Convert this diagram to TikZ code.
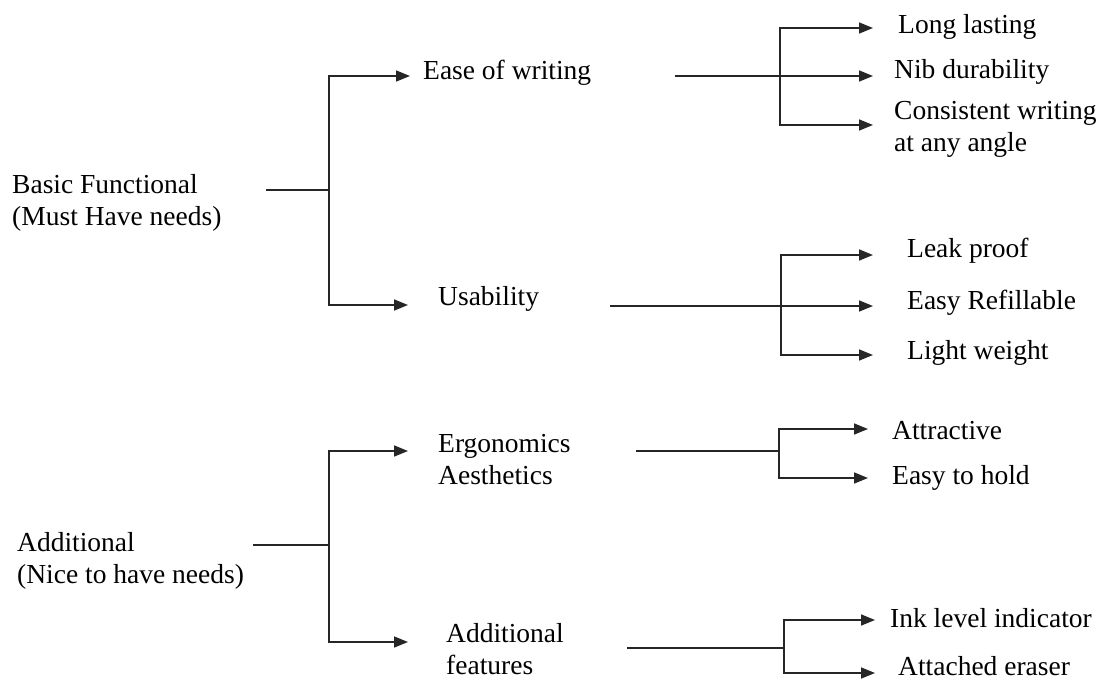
\documentclass[tikz,border=0pt]{standalone}
\usepackage{fontspec}
\setmainfont{Liberation Serif}
\usetikzlibrary{arrows.meta}
\begin{document}
\begin{tikzpicture}[x=1pt,y=-1pt,
  lbl/.style={anchor=base west,inner sep=0pt,align=left,font=\fontsize{27.5}{32}\selectfont},
  conn/.style={line width=1.6pt,line join=miter,black!85},
  arr/.style={conn,-{Triangle[length=14pt,width=11pt]}}]
\useasboundingbox (0,0) rectangle (1109,680);
% root nodes (base = last line's baseline)
\node[lbl] (bf) at (12,225) {Basic Functional\\(Must Have needs)};
\node[lbl] (ad) at (17,583) {Additional\\(Nice to have needs)};
% second level
\node[lbl] (ew) at (423,79) {Ease of writing};
\node[lbl] (us) at (438,305) {Usability};
\node[lbl] (er) at (438,484) {Ergonomics\\Aesthetics};
\node[lbl] (af) at (446,674) {Additional\\features};
% leaves
\node[lbl] (ll) at (898,34) {Long lasting};
\node[lbl] (nd) at (894,78) {Nib durability};
\node[lbl] (cw) at (894,151) {Consistent writing\\at any angle};
\node[lbl] (lp) at (907,257) {Leak proof};
\node[lbl] (rf) at (907,309) {Easy Refillable};
\node[lbl] (lw) at (907,359) {Light weight};
\node[lbl] (at) at (892,439) {Attractive};
\node[lbl] (eh) at (892,484) {Easy to hold};
\node[lbl] (il) at (890,627) {Ink level indicator};
\node[lbl] (ae) at (898,675) {Attached eraser};
% coordinates
\coordinate (bfs) at (266,190); \coordinate (bfj) at (329,190);
\coordinate (ewt) at (410,76); \coordinate (ust) at (408,305);
\coordinate (ads) at (253,545); \coordinate (adj) at (329,545);
\coordinate (ert) at (408,451); \coordinate (aft) at (408,642);
\coordinate (ews) at (675,76); \coordinate (ewj) at (780,76);
\coordinate (llt) at (873,28); \coordinate (ndt) at (873,76); \coordinate (cwt) at (873,125);
\coordinate (uss) at (610,306); \coordinate (usj) at (781,306);
\coordinate (lpt) at (873,255); \coordinate (rft) at (873,306); \coordinate (lwt) at (873,355);
\coordinate (ers) at (636,451); \coordinate (erj) at (779,451);
\coordinate (att) at (868,429); \coordinate (eht) at (868,478);
\coordinate (afs) at (627,648); \coordinate (afj) at (784,648);
\coordinate (ilt) at (875,620); \coordinate (aet) at (875,673);
% connectors
\draw[conn] (bfs) -- (bfj);
\draw[arr] (bfj) |- (ewt);
\draw[arr] (bfj) |- (ust);
\draw[conn] (ads) -- (adj);
\draw[arr] (adj) |- (ert);
\draw[arr] (adj) |- (aft);
\draw[arr] (ews) -- (ndt);
\draw[arr] (ewj) |- (llt);
\draw[arr] (ewj) |- (cwt);
\draw[arr] (uss) -- (rft);
\draw[arr] (usj) |- (lpt);
\draw[arr] (usj) |- (lwt);
\draw[conn] (ers) -- (erj);
\draw[arr] (erj) |- (att);
\draw[arr] (erj) |- (eht);
\draw[conn] (afs) -- (afj);
\draw[arr] (afj) |- (ilt);
\draw[arr] (afj) |- (aet);
\end{tikzpicture}
\end{document}
